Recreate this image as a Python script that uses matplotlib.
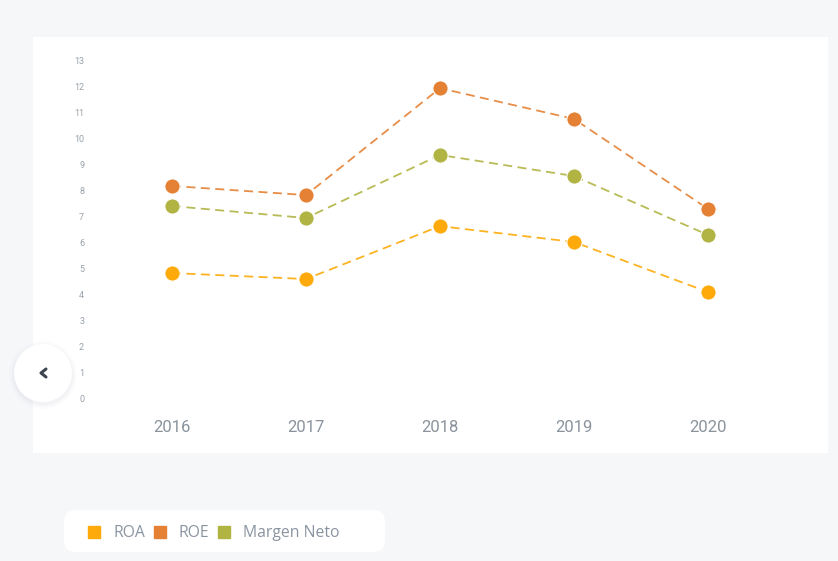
import matplotlib
matplotlib.use("Agg")
import matplotlib.pyplot as plt
from matplotlib.patches import FancyBboxPatch, Circle, Rectangle
from matplotlib.lines import Line2D

# Datos
years = ["2016", "2017", "2018", "2019", "2020"]
roa = [4.83, 4.6, 6.63, 6.02, 4.1]
roe = [8.17, 7.82, 11.92, 10.74, 7.29]
margen = [7.4, 6.94, 9.36, 8.55, 6.29]
series_names = ["ROA", "ROE", "Margen Neto"]
colors = ["#fdaa0a", "#e58134", "#b1b443"]
y_ticks = list(range(0, 14))

W, H = 838, 561
fig = plt.figure(figsize=(W / 100, H / 100), dpi=100)
fig.patch.set_facecolor("#f6f7f9")

def px(x, y, w, h):
    # Pixel-Box (oben links) -> Figurkoordinaten
    return [x / W, 1 - (y + h) / H, w / W, h / H]

# Hintergrund-Achse in Pixelkoordinaten (Karte, Legendenfeld)
bg = fig.add_axes([0, 0, 1, 1], zorder=0)
bg.set_xlim(0, W)
bg.set_ylim(H, 0)
bg.axis("off")
bg.add_patch(Rectangle((33, 37), 795, 416, facecolor="white", edgecolor="none"))
bg.add_patch(FancyBboxPatch((64, 510), 321, 42, boxstyle="round,pad=0,rounding_size=12",
                            facecolor="white", edgecolor="none"))

ax = fig.add_axes(px(105, 47, 670, 365), zorder=2)
ax.set_facecolor("none")
x = list(range(len(years)))
for vals, c in zip([roa, roe, margen], colors):
    ax.plot(x, vals, linestyle=(0, (5, 3)), color=c, lw=1.3, alpha=0.9, zorder=2)
    ax.plot(x, vals, linestyle="none", marker="o", ms=11, color=c,
            markeredgecolor="white", markeredgewidth=0.8, zorder=3, clip_on=False)

ax.set_xlim(-0.5, 4.5)
ax.set_ylim(-0.5, 13.5)
ax.set_xticks(x)
ax.set_xticklabels(years, fontsize=12, color="#8a939c", family=["Roboto", "DejaVu Sans"])
ax.set_yticks(y_ticks)
ax.set_yticklabels([str(v) for v in y_ticks], fontsize=6.5, color="#98a1ab",
                   family=["Roboto", "DejaVu Sans"])
ax.tick_params(axis="x", length=0, pad=6)
ax.tick_params(axis="y", length=0, pad=15)
for s in ax.spines.values():
    s.set_visible(False)

# Navigationsknopf links (ueber der Achse)
nav = fig.add_axes([0, 0, 1, 1], zorder=3)
nav.set_xlim(0, W)
nav.set_ylim(H, 0)
nav.axis("off")
nav.patch.set_alpha(0)
for r, a in [(34, 0.025), (32, 0.035), (30.5, 0.05)]:
    nav.add_patch(Circle((43, 375), r, facecolor="#9aa1ad", alpha=a, edgecolor="none"))
nav.add_patch(Circle((43, 373), 29, facecolor="white", edgecolor="none"))
nav.plot([46, 41, 46], [369, 373, 377], color="#3d4450", lw=2.2,
         solid_capstyle="round", solid_joinstyle="round")

# Legende
handles = [Line2D([], [], linestyle="none", marker="s", ms=9, color=c) for c in colors]
fig.legend(handles, series_names, loc="center left", bbox_to_anchor=(88 / W, 1 - 533 / H),
           ncol=3, frameon=False, handlelength=0.75, handletextpad=0.85, columnspacing=0.55,
           borderpad=0, borderaxespad=0,
           prop={"family": ["Open Sans", "DejaVu Sans"], "size": 11.3},
           labelcolor="#8a94a1")

fig.savefig("out.png", dpi=100, facecolor=fig.get_facecolor())
